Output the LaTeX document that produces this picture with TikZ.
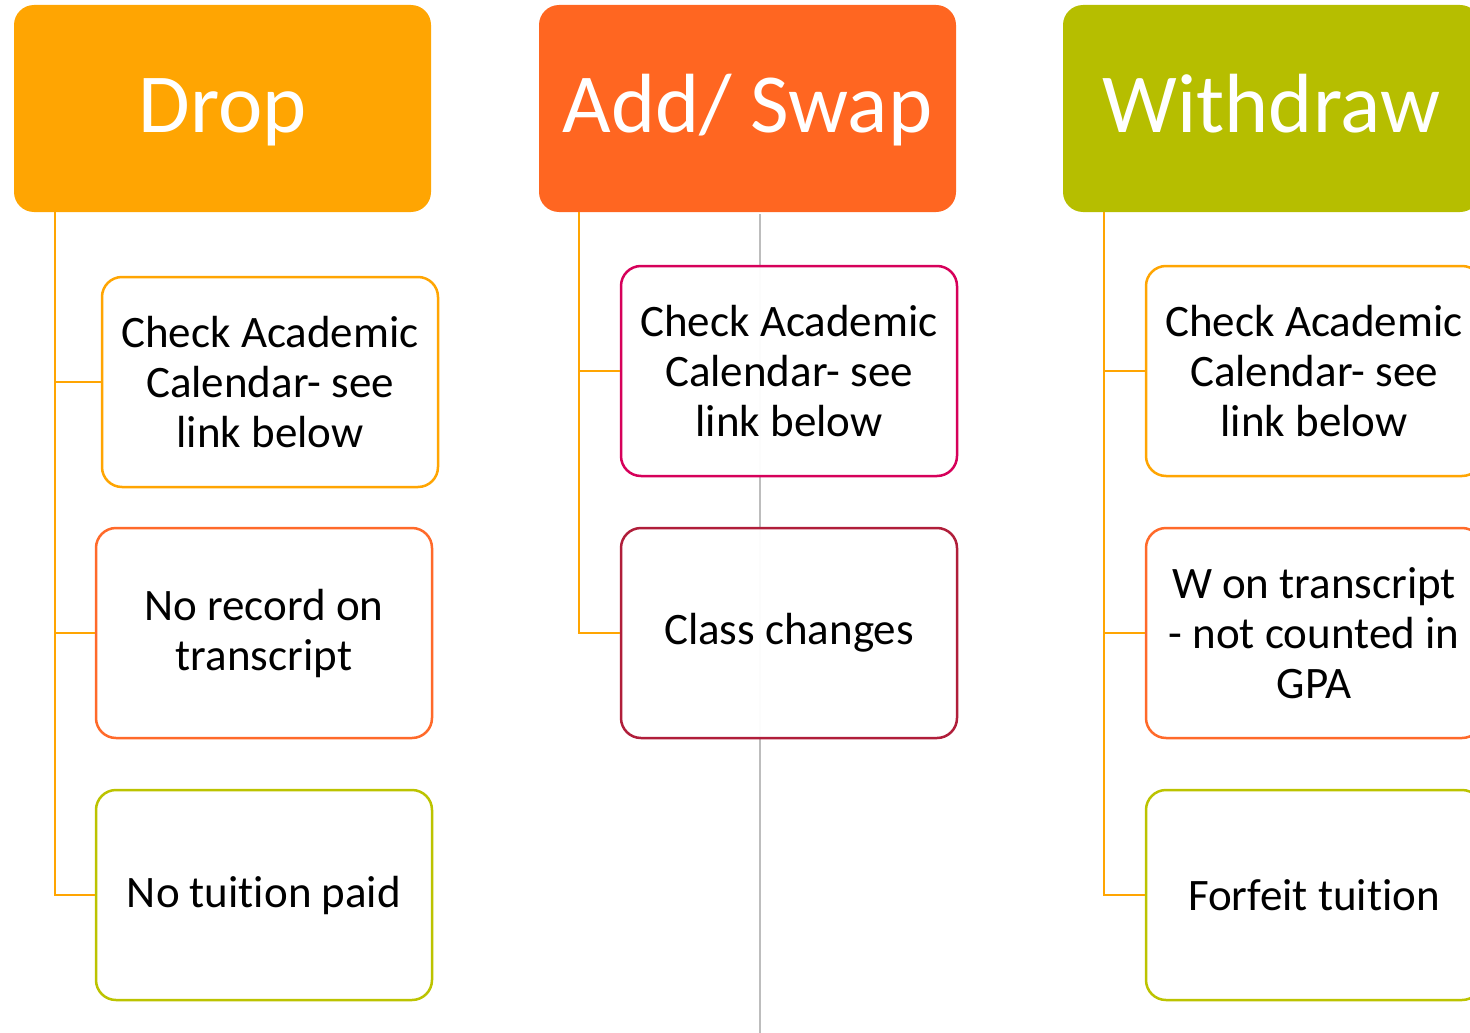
\documentclass[tikz,border=0pt]{standalone}
\usepackage{fontspec}
\setmainfont{Carlito}[Ligatures=NoCommon]
\definecolor{cdrop}{HTML}{FFA502}
\definecolor{cadd}{HTML}{FF6621}
\definecolor{cwd}{HTML}{B6BE00}
\definecolor{corange}{HTML}{FFA502}
\definecolor{cred}{HTML}{FF6A2A}
\definecolor{cgreen}{HTML}{BCC300}
\definecolor{cmag}{HTML}{D6005A}
\definecolor{cdark}{HTML}{B01E3A}
\definecolor{cgray}{HTML}{BDBDBD}
\tikzset{
  header/.style={rounded corners=20pt, minimum width=417pt, minimum height=207pt, inner sep=0pt,
    text height=54pt, text depth=7pt,
    text=white, font=\fontsize{84}{96}\selectfont},
  child/.style={draw=#1, line width=2.5pt, rounded corners=20pt, fill=white, fill opacity=0.96, text opacity=1,
    minimum width=336pt, minimum height=210pt, inner sep=0pt, align=center,
    font=\fontsize{45}{50}\selectfont},
  link/.style={draw=corange, line width=2.2pt}
}
\begin{document}
\begin{tikzpicture}[x=1pt,y=-1pt]
\useasboundingbox (0,0) rectangle (1470,1033);
\clip (0,0) rectangle (1470,1033);
% gray divider
\coordinate (gtop) at (760,214);
\coordinate (gbot) at (760,1033);
\draw[cgray, line width=1.5pt] (gtop) -- (gbot);
% headers
\node[header, fill=cdrop] (drop) at (222.5,108.5) {Drop};
\node[header, fill=cadd] (add) at (747.5,108.5) {Add/ Swap};
\node[header, fill=cwd] (wd) at (1271.5,108.5) {Withdraw};
% drop column
\node[child=corange] (d1) at (270,382) {Check Academic\\Calendar- see\\link below};
\node[child=cred] (d2) at (264,633) {No record on\\transcript};
\node[child=cgreen] (d3) at (264,895) {No tuition paid};
% add column
\node[child=cmag] (a1) at (789,371) {Check Academic\\Calendar- see\\link below};
\node[child=cdark] (a2) at (789,633) {Class changes};
% withdraw column
\node[child=corange] (w1) at (1314,371) {Check Academic\\Calendar- see\\link below};
\node[child=cred] (w2) at (1314,633) {W on transcript\\- not counted in\\GPA};
\node[child=cgreen] (w3) at (1314,895) {Forfeit tuition};
% connectors
\draw[link] (drop.south west) ++(41,0) |- (d1.west);
\draw[link] (drop.south west) ++(41,0) |- (d2.west);
\draw[link] (drop.south west) ++(41,0) |- (d3.west);
\draw[link] (add.south west) ++(40,0) |- (a1.west);
\draw[link] (add.south west) ++(40,0) |- (a2.west);
\draw[link] (wd.south west) ++(41,0) |- (w1.west);
\draw[link] (wd.south west) ++(41,0) |- (w2.west);
\draw[link] (wd.south west) ++(41,0) |- (w3.west);
\end{tikzpicture}
\end{document}
